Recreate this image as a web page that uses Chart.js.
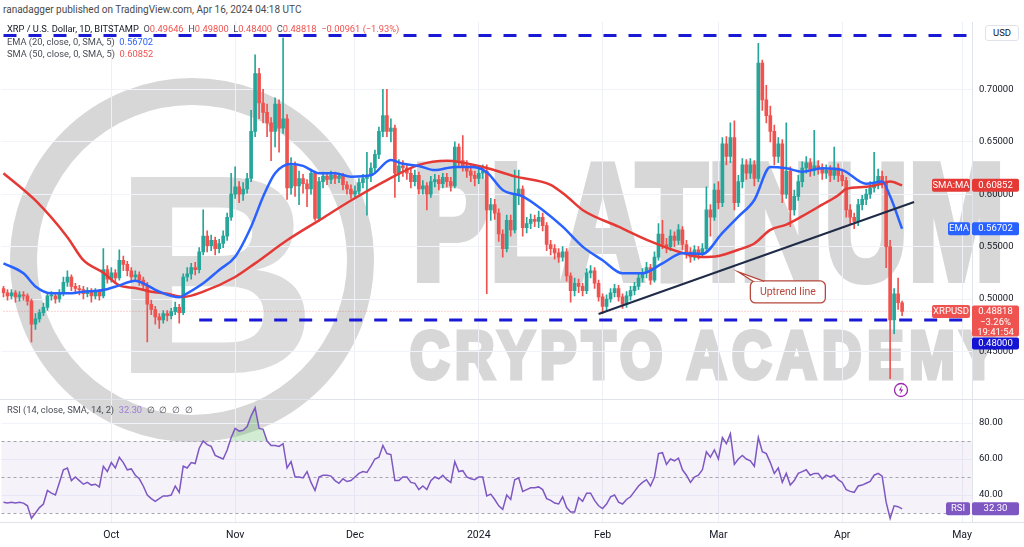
<!DOCTYPE html>
<html>
<head>
<meta charset="utf-8">
<script src="https://cdn.jsdelivr.net/npm/chart.js@4.4.0/dist/chart.umd.min.js"></script>
<style>
  body { margin: 0; width: 1024px; height: 547px; overflow: hidden; background: #fff; position: relative; font-family: Roboto, "Liberation Sans", sans-serif; }
  .abs { position: absolute; }
  #pub { left: 3px; top: 4px; font-size: 10px; color: #4a4a4a; }
  .lg { left: 7px; font-size: 9.3px; color: #4a4d57; white-space: nowrap; }
  .lg .d { color: #131722; }
  .r { color: #ef5350; } .b { color: #2962ff; } .p { color: #9c7bd6; }
  .wm { color: #d7d7d7; -webkit-text-stroke-color: #d7d7d7; font-family: "Liberation Sans", Arial, sans-serif; font-weight: bold; line-height: 1; white-space: nowrap; transform-origin: 0 0; }
  #ring { left: 10px; top: 78px; width: 364px; height: 364px; border: 27px solid #d7d7d7; border-radius: 50%; box-sizing: border-box; }
  canvas { position: absolute; left: 0; }
  .sep { left: 0; width: 1024px; height: 1px; background: #e0e3eb; }
  #usd { left: 985px; top: 25px; width: 32px; height: 14px; border: 1px solid #e0e3eb; border-radius: 3px; font-size: 9.5px; color: #131722; text-align: center; line-height: 14px; background: #fff; }
</style>
</head>
<body>
<div class="abs" id="ring"></div>
<div class="abs wm" style="left:112px;top:132px;font-size:285px;color:#dcdcdc;-webkit-text-stroke-color:#dcdcdc">B</div>
<div class="abs wm" style="left:412px;top:140px;font-size:165px;-webkit-text-stroke-width:8px" data-w="593">PLATINUM</div>
<div class="abs wm" style="left:410px;top:321px;font-size:67px;letter-spacing:7px;-webkit-text-stroke-width:5px" data-w="592">CRYPTO ACADEMY</div>

<canvas id="priceChart" width="1024" height="378" style="top:22px"></canvas>
<canvas id="rsiChart" width="1024" height="147" style="top:400px"></canvas>
<div class="abs sep" style="top:399px"></div>
<div class="abs sep" style="top:522px"></div>

<div class="abs" id="pub">ranadagger published on TradingView.com, Apr 16, 2024 04:18 UTC</div>
<div class="abs lg" style="top:23px"><span class="d">XRP / U.S. Dollar, 1D, BITSTAMP</span>&nbsp; O<span class="r">0.49646</span>&nbsp; H<span class="r">0.49800</span>&nbsp; L<span class="r">0.48400</span>&nbsp; C<span class="r">0.48818</span>&nbsp; <span class="r">−0.00961 (−1.93%)</span></div>
<div class="abs lg" style="top:36px">EMA (20, close, 0, SMA, 5)&nbsp; <span class="b">0.56702</span></div>
<div class="abs lg" style="top:48px">SMA (50, close, 0, SMA, 5)&nbsp; <span class="r">0.60852</span></div>
<div class="abs lg" style="top:404px">RSI (14, close, SMA, 14, 2)&nbsp; <span class="p">32.30</span>&nbsp; ∅&nbsp; ∅&nbsp; ∅&nbsp; ∅</div>
<div class="abs" id="usd">USD</div>
<svg class="abs" style="left:893px;top:382px" width="16" height="16" viewBox="0 0 16 16">
  <circle cx="8" cy="8" r="6.5" fill="#fff" stroke="#9c27b0" stroke-width="1.3"/>
  <path d="M9 3.5 L5.8 8.6 H8 L7 12.5 L10.2 7.4 H8 Z" fill="#9c27b0"/>
</svg>

<script>
// XRP/USD daily, Bitstamp, 4 Sep 2023 -> 16 Apr 2024
const firstOpen = 0.510;
const closes = [
  // Sep
  0.506,0.503,0.506,0.502,0.504,0.503,0.498,0.476,0.481,0.487,0.492,0.503,0.503,0.500,0.506,0.516,0.521,0.512,0.510,0.509,0.505,0.508,0.503,0.507,0.503,0.528,0.519,
  // Oct
  0.525,0.520,0.537,0.533,0.527,0.521,0.523,0.518,0.513,0.495,0.490,0.483,0.480,0.486,0.484,0.488,0.492,0.487,0.521,0.524,0.530,0.528,0.545,0.560,0.551,0.556,0.548,0.553,0.560,0.578,0.600,
  // Nov
  0.607,0.600,0.605,0.615,0.660,0.715,0.687,0.678,0.668,0.660,0.686,0.663,0.672,0.606,0.627,0.608,0.615,0.610,0.605,0.620,0.577,0.612,0.617,0.614,0.618,0.615,0.617,0.609,0.605,0.600,
  // Dec
  0.603,0.611,0.615,0.618,0.625,0.638,0.660,0.675,0.660,0.663,0.620,0.627,0.625,0.620,0.612,0.618,0.605,0.608,0.600,0.612,0.614,0.610,0.616,0.612,0.608,0.645,0.632,0.627,0.622,0.618,0.615,
  // Jan
  0.620,0.622,0.585,0.590,0.582,0.562,0.548,0.575,0.566,0.600,0.605,0.568,0.572,0.576,0.574,0.578,0.570,0.552,0.548,0.544,0.540,0.545,0.522,0.508,0.515,0.512,0.508,0.525,0.527,0.515,0.502,
  // Feb
  0.493,0.500,0.506,0.510,0.502,0.495,0.503,0.508,0.512,0.520,0.525,0.530,0.518,0.540,0.562,0.552,0.550,0.560,0.556,0.566,0.552,0.545,0.540,0.547,0.543,0.548,0.585,0.578,0.604,
  // Mar
  0.592,0.648,0.636,0.654,0.592,0.612,0.628,0.620,0.628,0.615,0.725,0.690,0.675,0.660,0.636,0.648,0.600,0.622,0.585,0.598,0.612,0.625,0.630,0.623,0.627,0.625,0.620,0.623,0.618,0.625,0.618,
  // Apr
  0.613,0.585,0.578,0.574,0.590,0.595,0.600,0.606,0.610,0.617,0.612,0.550,0.480,0.505,0.49646,0.48818
];
const highs = [
  0.512,0.509,0.509,0.508,0.507,0.507,0.505,0.500,0.486,0.490,0.496,0.506,0.507,0.505,0.509,0.521,0.527,0.523,0.515,0.513,0.512,0.511,0.510,0.510,0.509,0.548,0.532,
  0.530,0.528,0.547,0.541,0.536,0.530,0.527,0.526,0.521,0.516,0.499,0.493,0.486,0.489,0.489,0.491,0.497,0.495,0.524,0.530,0.534,0.535,0.549,0.585,0.565,0.561,0.559,0.557,0.565,0.582,0.620,
  0.626,0.612,0.611,0.620,0.680,0.733,0.720,0.700,0.686,0.673,0.692,0.690,0.749,0.676,0.635,0.631,0.622,0.619,0.614,0.624,0.622,0.616,0.621,0.620,0.622,0.621,0.620,0.620,0.612,0.609,
  0.608,0.615,0.619,0.640,0.630,0.642,0.664,0.700,0.700,0.672,0.666,0.633,0.632,0.629,0.624,0.623,0.621,0.613,0.611,0.617,0.619,0.618,0.620,0.620,0.616,0.650,0.648,0.656,0.632,0.628,0.622,
  0.625,0.628,0.628,0.596,0.595,0.586,0.566,0.580,0.580,0.623,0.623,0.608,0.578,0.581,0.580,0.584,0.582,0.573,0.556,0.552,0.548,0.550,0.548,0.525,0.520,0.519,0.515,0.529,0.532,0.530,0.518,
  0.505,0.504,0.510,0.514,0.513,0.505,0.507,0.512,0.516,0.524,0.529,0.535,0.533,0.545,0.572,0.575,0.558,0.566,0.564,0.571,0.569,0.556,0.549,0.551,0.550,0.553,0.607,0.590,0.610,
  0.612,0.654,0.655,0.668,0.670,0.618,0.634,0.633,0.634,0.632,0.744,0.728,0.704,0.684,0.666,0.654,0.652,0.668,0.626,0.604,0.618,0.631,0.636,0.634,0.661,0.632,0.629,0.628,0.627,0.645,0.629,
  0.624,0.616,0.590,0.582,0.595,0.599,0.605,0.612,0.640,0.624,0.622,0.617,0.556,0.510,0.520,0.498
];
const lows = [
  0.502,0.499,0.500,0.497,0.498,0.499,0.494,0.459,0.471,0.478,0.484,0.489,0.499,0.496,0.497,0.503,0.512,0.508,0.505,0.504,0.500,0.502,0.497,0.500,0.499,0.501,0.515,
  0.516,0.515,0.518,0.527,0.522,0.516,0.517,0.513,0.508,0.459,0.485,0.476,0.472,0.477,0.479,0.481,0.485,0.477,0.485,0.517,0.519,0.523,0.525,0.542,0.545,0.546,0.542,0.544,0.549,0.556,0.575,
  0.596,0.592,0.594,0.601,0.612,0.655,0.672,0.668,0.655,0.632,0.645,0.640,0.658,0.595,0.600,0.598,0.590,0.601,0.588,0.600,0.575,0.574,0.606,0.609,0.610,0.610,0.611,0.604,0.600,0.596,
  0.597,0.600,0.606,0.580,0.612,0.620,0.634,0.655,0.655,0.650,0.597,0.612,0.617,0.614,0.606,0.608,0.600,0.600,0.585,0.597,0.607,0.604,0.606,0.607,0.603,0.606,0.626,0.622,0.616,0.612,0.608,
  0.610,0.615,0.505,0.575,0.576,0.555,0.540,0.545,0.560,0.563,0.590,0.560,0.563,0.567,0.569,0.568,0.565,0.546,0.542,0.538,0.535,0.536,0.517,0.497,0.503,0.506,0.503,0.505,0.520,0.510,0.498,
  0.486,0.489,0.497,0.502,0.498,0.491,0.492,0.499,0.504,0.509,0.516,0.520,0.514,0.516,0.537,0.548,0.544,0.546,0.550,0.552,0.547,0.539,0.535,0.537,0.538,0.540,0.545,0.560,0.575,
  0.586,0.588,0.628,0.630,0.585,0.588,0.606,0.614,0.615,0.608,0.612,0.680,0.668,0.650,0.628,0.630,0.592,0.596,0.569,0.580,0.594,0.607,0.620,0.617,0.618,0.619,0.614,0.615,0.612,0.614,0.612,
  0.608,0.578,0.571,0.567,0.570,0.585,0.590,0.596,0.602,0.605,0.606,0.530,0.424,0.467,0.490,0.484
];
// moving averages read at a few days each: [dayIndex, value]
const ema20 = [
  [0,0.534],[5,0.5245],[8,0.512],[12,0.5054],[16,0.5054],[20,0.507],[25,0.5086],[29,0.513],[33,0.5175],[35,0.515],
  [39,0.507],[44,0.5016],[46,0.5054],[50,0.515],[54,0.5277],[58,0.5404],[62,0.569],[65,0.5976],[68,0.620],[72,0.6288],
  [75,0.627],[79,0.620],[83,0.620],[87,0.6167],[92,0.618],[97,0.6326],[100,0.629],[104,0.627],[108,0.623],[113,0.626],
  [117,0.626],[121,0.621],[125,0.604],[130,0.598],[135,0.585],[140,0.569],[145,0.550],[150,0.537],[155,0.5245],[160,0.5245],
  [165,0.534],[170,0.5436],[175,0.543],[180,0.563],[184,0.5786],[188,0.5945],[192,0.626],[196,0.6247],[200,0.6215],[205,0.6247],
  [210,0.623],[216,0.610],[220,0.612],[222,0.598],[225,0.56702]
];
const sma50 = [
  [0,0.620],[8,0.594],[16,0.559],[20,0.537],[25,0.525],[29,0.513],[33,0.5105],[37,0.507],[41,0.505],[45,0.502],
  [50,0.507],[58,0.521],[63,0.534],[71,0.556],[79,0.575],[87,0.594],[96,0.6135],[104,0.628],[111,0.632],[121,0.625],
  [128,0.617],[137,0.609],[141,0.598],[145,0.585],[154,0.569],[162,0.555],[170,0.544],[175,0.540],[179,0.541],[184,0.547],
  [188,0.553],[192,0.566],[196,0.571],[200,0.579],[205,0.590],[209,0.599],[211,0.605],[216,0.607],[220,0.610],[222,0.612],[225,0.60852]
];
const rsi = [
  36,35.5,36,35.5,36,35.5,34,27,30,33,35,42.5,41,40,47,54,55,48,50,48,46,47,45.5,46,44.5,56,53,
  58,55,61,58,54,54.5,51,49,45,40,38,36.5,38,39.5,39.5,40,45,41.5,56,55,58,57.5,66,70,68,67,62,61,60,65,72,
  77,75.5,76,78,84,88.5,77,76.5,70,67.5,67.5,67,68.5,55,58.5,50,50,49.5,53,47,42.5,50,51,51,50.5,48,46.5,49,47.5,48,
  50,52,53,52.5,56,60,61,67.5,63,62.5,48,48,50,50,47,46.5,43,45,43,48,50,49,51,48.5,47,58.5,53,53.5,50,49,48.5,
  50,50,39.5,40.5,37.5,34,32,40,37.5,48.5,49.5,42,43,44,44,44.5,43,38,37,35.5,35,39,33,30.5,30.5,38.5,36.5,41,41,37,34,
  32.5,35,39,40,36,35,37.5,39,42,45,47,48.5,45,50,63,63.5,57,60,59,60.5,54,51,47,50,51,54,64,61,65,
  60,72,68.5,74,57,60,62,60,59,56,72,64,63,58,52,55,47,52,45.5,48,52,53,54,51,52,52,49,51,50,51,48.5,
  47,43,42,41.5,45,45.5,46.5,47.5,51,52,50.5,36,27,34,33.5,32.3
];
// drawn levels
const resistance = 0.7515;
const support = 0.48;
const supportFromDay = 49;
const uptrend = [[149, 0.4857], [228, 0.5926]];
const priceTicks = [0.45, 0.50, 0.55, 0.60, 0.65, 0.70];
const rsiTicks = [40, 60, 80];
const lastEma = 0.56702, lastSma = 0.60852, lastRsi = 32.30;
const calloutTip = [184, 0.5258];

// 243 daily slots from 4 Sep 2023 (axis runs past the last candle into May)
const labels = [];
for (let i = 0; i < 243; i++) labels.push(new Date(Date.UTC(2023, 8, 4) + i * 86400000).toISOString().slice(0, 10));
const lastIdx = labels.length - 1;
const monthNames = ['Jan','Feb','Mar','Apr','May','Jun','Jul','Aug','Sep','Oct','Nov','Dec'];
const isMonthStart = i => labels[i] && labels[i].slice(8) === '01';
const monthLabel = i => {
  if (!isMonthStart(i)) return '';
  const m = +labels[i].slice(5, 7);
  return m === 1 ? labels[i].slice(0, 4) : monthNames[m - 1];
};

const opens = closes.map((c, i) => i === 0 ? firstOpen : closes[i - 1]);
const up = '#26a69a', down = '#ef5350';
const candleColor = ctx => closes[ctx.dataIndex] >= opens[ctx.dataIndex] ? up : down;
const pts = arr => arr.map(([d, v]) => ({ x: labels[d], y: v }));
const lastClose = closes[closes.length - 1];

const font = 'Roboto, "Liberation Sans", sans-serif';
Chart.defaults.font.family = font;
Chart.defaults.animation = false;

const pad = { left: 1.5, right: 1, top: 0, bottom: 0 };
const noPad = s => { s.paddingTop = 0; s.paddingBottom = 0; s.paddingLeft = 0; s.paddingRight = 0; };
const gridX = { offset: false, drawTicks: false, color: c => isMonthStart(c.index) ? '#eef0f5' : 'rgba(0,0,0,0)' };

function tag(ctx, x, y, w, h, bg, lines, fg) {
  ctx.fillStyle = bg;
  ctx.beginPath();
  ctx.roundRect(x, y, w, h, 2);
  ctx.fill();
  ctx.fillStyle = fg || '#fff';
  ctx.textAlign = 'center';
  ctx.textBaseline = 'middle';
  ctx.font = '9.5px ' + font;
  lines.forEach((t, k) => ctx.fillText(t, x + w / 2, y + 6.5 + k * 10.5));
}

const priceTags = {
  id: 'priceTags',
  afterDraw(chart) {
    const { ctx, scales: { x, y } } = chart;
    ctx.save();
    let py = y.getPixelForValue(lastSma);
    tag(ctx, 932, py - 6.5, 38, 13, '#e53935', ['SMA:MA']);
    tag(ctx, 972, py - 6.5, 47, 13, '#e53935', [lastSma.toFixed(5)]);
    py = y.getPixelForValue(lastEma);
    tag(ctx, 948, py - 6.5, 22, 13, '#2962ff', ['EMA']);
    tag(ctx, 972, py - 6.5, 47, 13, '#2962ff', [lastEma.toFixed(5)]);
    py = y.getPixelForValue(lastClose);
    tag(ctx, 932, py - 6.5, 38, 13, '#ef5350', ['XRPUSD']);
    tag(ctx, 972, py - 6, 47, 31, '#ef5350', [lastClose.toFixed(5), '−3.26%', '19:41:54']);
    tag(ctx, 972, Math.max(y.getPixelForValue(support) - 6, py + 26), 47, 12, '#1414d2', [support.toFixed(5)]);

    // "Uptrend line" callout
    const tx = x.getPixelForValue(calloutTip[0]), ty = y.getPixelForValue(calloutTip[1]);
    const bx = tx + 12, by = ty + 9, bw = 75, bh = 22;
    ctx.strokeStyle = '#b5473d';
    ctx.lineWidth = 1.3;
    ctx.fillStyle = '#fff';
    ctx.beginPath();
    ctx.roundRect(bx, by, bw, bh, 5);
    ctx.fill();
    ctx.stroke();
    ctx.beginPath();
    ctx.moveTo(bx + 3, by);
    ctx.lineTo(tx, ty);
    ctx.lineTo(bx + 14, by);
    ctx.closePath();
    ctx.fill();
    ctx.beginPath();
    ctx.moveTo(bx + 3, by + 0.5);
    ctx.lineTo(tx, ty);
    ctx.lineTo(bx + 14, by + 0.5);
    ctx.stroke();
    ctx.fillStyle = '#b5473d';
    ctx.font = '10.5px ' + font;
    ctx.textAlign = 'center';
    ctx.textBaseline = 'middle';
    ctx.fillText('Uptrend line', bx + bw / 2, by + bh / 2 + 0.5);
    ctx.restore();
  }
};

new Chart(document.getElementById('priceChart'), {
  type: 'bar',
  data: {
    labels,
    datasets: [
      { type: 'line', label: 'Resistance', data: pts([[0, resistance], [lastIdx, resistance]]), borderColor: '#1a1ad6', borderWidth: 3, borderDash: [13, 12], pointRadius: 0, order: 0 },
      { type: 'line', label: 'Support', data: pts([[supportFromDay, support], [lastIdx, support]]), borderColor: '#1a1ad6', borderWidth: 3, borderDash: [13, 12], pointRadius: 0, order: 0 },
      { type: 'line', label: 'Uptrend line', data: pts(uptrend), borderColor: '#1f2b47', borderWidth: 2, pointRadius: 0, order: 0 },
      { type: 'line', label: 'EMA 20', data: pts(ema20), borderColor: '#2962ff', borderWidth: 2.5, pointRadius: 0, cubicInterpolationMode: 'monotone', order: 1 },
      { type: 'line', label: 'SMA 50', data: pts(sma50), borderColor: '#e53935', borderWidth: 2.5, pointRadius: 0, cubicInterpolationMode: 'monotone', order: 1 },
      { type: 'line', label: 'Last', data: pts([[0, lastClose], [lastIdx, lastClose]]), borderColor: 'rgba(239,83,80,0.5)', borderWidth: 1, borderDash: [1, 2], pointRadius: 0, order: 6 },
      { type: 'bar', label: 'Body', data: closes.map((c, i) => [opens[i], c]), backgroundColor: candleColor, barThickness: 3, minBarLength: 1, grouped: false, order: 3 },
      { type: 'bar', label: 'Wick', data: highs.map((h, i) => [lows[i], h]), backgroundColor: candleColor, barThickness: 1, grouped: false, order: 4 }
    ]
  },
  options: {
    responsive: false,
    layout: { padding: pad },
    plugins: { legend: { display: false }, tooltip: { enabled: false } },
    scales: {
      x: { type: 'category', offset: true, grid: gridX, border: { display: false }, ticks: { display: false, autoSkip: false }, afterFit: s => { s.height = 0; noPad(s); } },
      y: {
        position: 'right', min: 0.40363, max: 0.76431,
        afterBuildTicks: s => { s.ticks = priceTicks.map(v => ({ value: v })); },
        afterFit: s => { s.width = 51; noPad(s); },
        ticks: { callback: v => v.toFixed(5), padding: 7, color: '#131722', font: { size: 9.5 } },
        grid: { color: '#f0f3fa', drawTicks: false },
        border: { display: true, color: '#e0e3eb' }
      }
    }
  },
  plugins: [priceTags]
});

const rsiBand = {
  id: 'rsiBand',
  beforeDatasetsDraw(chart) {
    const { ctx, chartArea: a, scales: { y } } = chart;
    ctx.save();
    ctx.fillStyle = 'rgba(126,87,194,0.08)';
    ctx.fillRect(a.left, y.getPixelForValue(70), a.right - a.left, y.getPixelForValue(30) - y.getPixelForValue(70));
    ctx.strokeStyle = '#a3a6af';
    ctx.lineWidth = 1;
    ctx.setLineDash([3, 3]);
    [70, 50, 30].forEach(v => {
      const py = Math.round(y.getPixelForValue(v)) + 0.5;
      ctx.beginPath(); ctx.moveTo(a.left, py); ctx.lineTo(a.right, py); ctx.stroke();
    });
    ctx.restore();
  },
  afterDraw(chart) {
    const py = chart.scales.y.getPixelForValue(lastRsi);
    chart.ctx.save();
    tag(chart.ctx, 946, py - 6.5, 24, 13, '#7e57c2', ['RSI']);
    tag(chart.ctx, 972, py - 6.5, 47, 13, '#7e57c2', [lastRsi.toFixed(2)]);
    chart.ctx.restore();
  }
};

new Chart(document.getElementById('rsiChart'), {
  type: 'line',
  data: {
    labels,
    datasets: [
      { label: 'RSI', data: rsi, borderColor: '#7e57c2', borderWidth: 1.5, pointRadius: 0, tension: 0,
        fill: { target: { value: 70 }, above: 'rgba(76,175,80,0.25)', below: 'rgba(0,0,0,0)' } },
      { label: 'RSI low', data: rsi, borderColor: 'rgba(0,0,0,0)', borderWidth: 0, pointRadius: 0, tension: 0,
        fill: { target: { value: 30 }, above: 'rgba(0,0,0,0)', below: 'rgba(242,54,69,0.2)' } }
    ]
  },
  options: {
    responsive: false,
    layout: { padding: pad },
    plugins: { legend: { display: false }, tooltip: { enabled: false } },
    scales: {
      x: {
        type: 'category', offset: true, grid: gridX, border: { display: false },
        ticks: { autoSkip: false, maxRotation: 0, padding: 7, color: '#131722', font: { size: 10.5 }, callback: (v, i) => monthLabel(i) },
        afterFit: s => { s.height = 25; noPad(s); }
      },
      y: {
        position: 'right', min: 25, max: 92.78,
        afterBuildTicks: s => { s.ticks = rsiTicks.map(v => ({ value: v })); },
        afterFit: s => { s.width = 51; noPad(s); },
        ticks: { callback: v => v.toFixed(2), padding: 7, color: '#131722', font: { size: 9.5 } },
        grid: { color: '#f0f3fa', drawTicks: false },
        border: { display: true, color: '#e0e3eb' }
      }
    }
  },
  plugins: [rsiBand]
});

// fit the watermark words to their widths
document.querySelectorAll('[data-w]').forEach(el => {
  el.style.transform = 'scaleX(' + (el.dataset.w / el.offsetWidth) + ')';
});
</script>
</body>
</html>
